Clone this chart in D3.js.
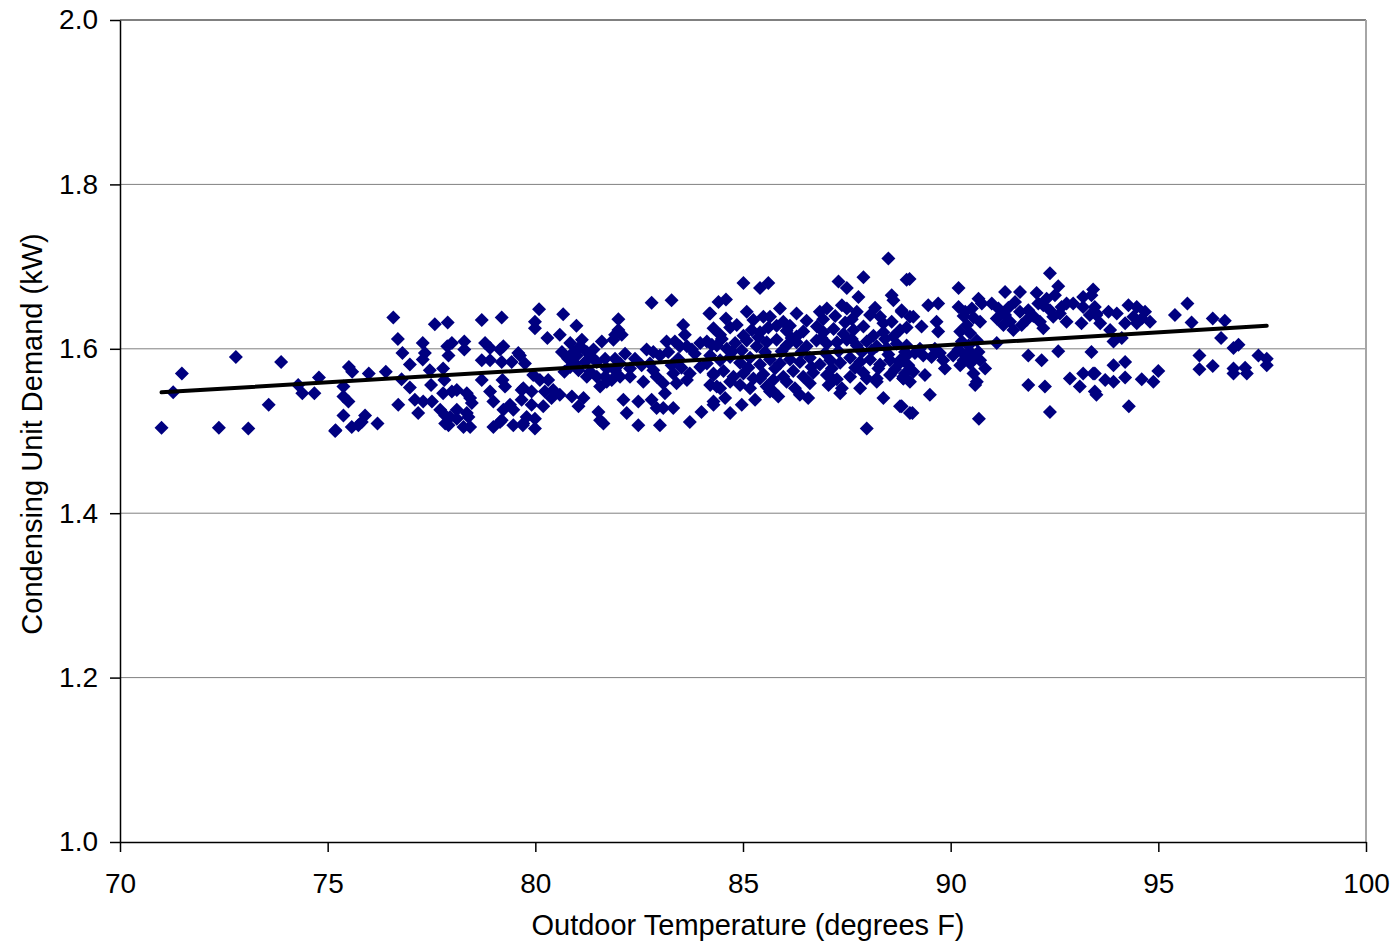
<!DOCTYPE html>
<html>
<head>
<meta charset="utf-8">
<script src="https://cdn.jsdelivr.net/npm/d3@7"></script>
<style>
  html, body { margin: 0; padding: 0; background: #fff; }
  svg { display: block; font-family: "Liberation Sans", Arial, sans-serif; }
</style>
</head>
<body>
<div id="chart"></div>
<script>
// [outdoor temperature (F), condensing unit demand (kW)]
const observations = [
  [71.0,1.504],[71.28,1.547],[71.49,1.570],[72.38,1.504],[72.79,1.590],[73.09,1.503],[73.58,1.532],[73.88,1.584],
  [74.29,1.556],[74.39,1.546],[74.68,1.546],[74.79,1.565],[75.18,1.500],
  [76.58,1.638],[76.69,1.612],[77.58,1.630],[77.89,1.632],[78.71,1.635],[79.19,1.638],
  [76.80,1.595],[76.98,1.581],[77.29,1.607],[77.34,1.595],[77.29,1.587],[77.88,1.603],[77.99,1.607],[77.91,1.592],
  [78.29,1.609],[78.29,1.599],[78.79,1.607],[78.91,1.601],[79.15,1.599],[79.23,1.603],
  [78.71,1.586],[78.91,1.586],[79.19,1.584],[79.43,1.584],[79.59,1.595],
  [75.51,1.578],[75.59,1.572],[75.99,1.570],[76.40,1.572],[76.78,1.563],[77.46,1.574],[77.78,1.576],
  [76.98,1.553],[77.49,1.556],[77.81,1.562],[78.71,1.562],[79.21,1.562],[79.27,1.554],
  [75.38,1.554],[75.38,1.542],[75.50,1.536],[77.10,1.538],[77.30,1.536],[77.51,1.536],[77.78,1.546],[77.99,1.548],
  [78.11,1.550],[78.35,1.546],[78.43,1.540],[78.47,1.534],[78.91,1.548],[78.99,1.536],[79.67,1.550],[79.67,1.538],
  [76.70,1.532],[77.18,1.522],[77.71,1.526],[77.83,1.519],[77.95,1.517],[78.11,1.526],[78.11,1.515],[78.35,1.522],
  [78.39,1.517],[79.23,1.526],[79.39,1.532],[79.47,1.526],[79.19,1.513],
  [75.38,1.519],[75.90,1.519],[75.82,1.511],[75.58,1.505],[75.74,1.507],[76.20,1.509],[77.83,1.509],[77.91,1.507],
  [78.27,1.505],[78.43,1.505],[78.99,1.505],[79.15,1.511],[79.47,1.507],[79.70,1.507],[75.19,1.501],[79.79,1.517],
  [80.09,1.648],[79.99,1.633],[79.99,1.625],[80.67,1.642],[80.99,1.628],[80.29,1.613],[80.59,1.617],[82.0,1.636],
  [82.0,1.623],[81.92,1.617],[82.08,1.617],[81.88,1.611],[82.80,1.656],[83.28,1.659],[83.56,1.629],[83.60,1.617],
  [84.19,1.643],[84.41,1.657],
  [79.63,1.592],[79.75,1.582],[80.84,1.607],[81.12,1.611],[80.92,1.596],[81.08,1.603],[81.24,1.596],[81.40,1.599],[81.60,1.609],
  [80.79,1.588],[80.84,1.578],[80.96,1.582],[81.04,1.574],[81.24,1.566],[81.32,1.572],
  [81.48,1.584],[81.68,1.588],[81.92,1.588],[82.04,1.582],[81.72,1.576],[81.92,1.574],[82.04,1.566],[81.68,1.566],
  [81.84,1.562],[81.48,1.566],[81.56,1.554],[81.72,1.560],
  [82.28,1.576],[82.28,1.566],[82.68,1.599],[82.84,1.596],[83.0,1.592],
  [83.16,1.609],[83.36,1.609],[83.48,1.603],[83.65,1.603],[83.77,1.599],[83.97,1.607],[84.13,1.609],[84.25,1.605],
  [82.76,1.582],[82.84,1.574],[82.92,1.566],[83.08,1.558],[83.32,1.570],[83.40,1.558],[83.65,1.562],[83.72,1.570],
  [83.97,1.578],[84.13,1.582],[84.29,1.570],[84.37,1.554],
  [79.95,1.568],[80.11,1.562],[80.31,1.562],[80.43,1.550],[80.59,1.544],[80.39,1.540],[80.23,1.548],
  [79.71,1.552],[79.91,1.548],[79.91,1.532],[80.19,1.530],
  [80.88,1.542],[81.04,1.530],[81.16,1.540],[81.52,1.523],[81.64,1.509],[81.56,1.513],
  [82.12,1.538],[82.20,1.522],[82.48,1.536],[82.80,1.538],[82.92,1.528],[83.08,1.528],[83.32,1.528],
  [82.48,1.507],[83.0,1.507],[83.72,1.511],[84.0,1.523],[84.29,1.532],
  [79.71,1.509],[79.99,1.515],[79.99,1.503],
  [81.00,1.592],[81.20,1.584],[81.36,1.590],[82.16,1.594],[82.40,1.588],[82.56,1.580],[83.20,1.596],[83.44,1.588],
  [83.84,1.594],[83.28,1.580],[83.52,1.577],[80.64,1.596],[80.70,1.572],[82.60,1.560],[83.12,1.546],
  [88.50,1.710],[87.90,1.687],[87.30,1.682],[87.50,1.674],[85.01,1.680],[85.41,1.674],[85.61,1.680],[88.94,1.684],
  [84.59,1.660],[88.58,1.665],[88.62,1.659],[87.78,1.663],
  [84.21,1.643],[84.59,1.637],[85.89,1.649],[86.29,1.643],[85.25,1.635],[85.49,1.639],[85.65,1.639],[85.97,1.633],
  [86.85,1.645],[87.02,1.649],[87.38,1.653],[87.50,1.649],[87.74,1.645],
  [88.06,1.641],[88.30,1.639],[88.38,1.631],[88.58,1.633],[88.82,1.645],[89.02,1.639],
  [84.29,1.625],[84.45,1.617],[84.69,1.626],[84.85,1.629],[85.01,1.616],[85.21,1.623],[85.41,1.620],[85.61,1.626],
  [85.81,1.628],[86.05,1.622],[86.29,1.615],[86.45,1.621],[86.78,1.627],[86.94,1.620],[87.18,1.624],[87.42,1.618],
  [87.66,1.623],[87.90,1.627],[88.14,1.616],[88.38,1.620],[88.62,1.615],[88.78,1.623],[88.94,1.626],
  [84.37,1.604],[84.61,1.600],[84.81,1.607],[85.09,1.610],[85.33,1.603],[85.57,1.608],[85.81,1.611],[86.05,1.604],
  [86.29,1.608],[86.53,1.603],[86.77,1.610],[87.02,1.606],[87.26,1.608],[87.50,1.611],[87.74,1.604],[87.98,1.609],
  [88.22,1.603],[88.46,1.601],[88.70,1.606],[88.94,1.604],
  [84.21,1.592],[84.45,1.586],[84.69,1.590],[84.93,1.583],[85.17,1.589],[85.41,1.581],[85.65,1.587],[85.89,1.582],
  [86.13,1.587],[86.37,1.584],[86.61,1.589],[86.85,1.581],[87.10,1.586],[87.34,1.583],[87.58,1.589],[87.82,1.584],
  [88.06,1.587],[88.30,1.581],[88.54,1.586],[88.78,1.583],[88.98,1.580],
  [84.29,1.568],[84.53,1.573],[84.77,1.566],[85.01,1.570],[85.25,1.564],[85.49,1.569],[85.73,1.562],[85.97,1.566],
  [86.21,1.573],[86.45,1.566],[86.69,1.571],[87.02,1.568],[87.26,1.563],[87.58,1.566],[87.90,1.571],[88.22,1.564],
  [88.54,1.568],[88.86,1.566],
  [84.21,1.556],[84.45,1.552],[84.69,1.560],[84.93,1.556],[85.17,1.552],[85.41,1.564],[85.57,1.554],[85.73,1.548],
  [86.05,1.560],[86.61,1.558],[86.37,1.544],[86.57,1.540],[87.18,1.562],[87.38,1.552],[87.34,1.546],[87.82,1.552],
  [87.98,1.564],[88.22,1.560],[88.86,1.564],[89.02,1.560],
  [84.29,1.536],[84.57,1.540],[84.69,1.522],[84.97,1.532],[85.29,1.538],[85.65,1.548],[88.38,1.540],[88.78,1.530],
  [89.02,1.522],[87.98,1.503],
  [84.49,1.612],[84.73,1.596],[84.97,1.598],[85.13,1.577],[85.37,1.614],[85.53,1.596],[85.77,1.576],[85.93,1.597],
  [86.17,1.613],[86.41,1.596],[86.65,1.578],[86.89,1.613],[86.98,1.595],[87.14,1.576],[87.30,1.597],[87.46,1.632],
  [87.62,1.612],[87.70,1.577],[87.86,1.596],[88.10,1.598],[88.26,1.576],[88.42,1.612],[88.50,1.593],[88.66,1.575],
  [88.90,1.596],[86.93,1.636],[87.22,1.640],[86.53,1.634],[85.09,1.645],[86.13,1.628],[87.06,1.556],[86.25,1.552],
  [85.85,1.542],[87.62,1.636],[88.18,1.650],
  [92.39,1.692],[89.01,1.685],[92.59,1.676],[90.19,1.674],
  [91.31,1.669],[91.67,1.669],[92.07,1.668],[92.31,1.661],[92.51,1.665],[92.79,1.655],[93.19,1.663],[93.43,1.672],
  [88.82,1.647],[89.10,1.639],[89.30,1.627],[89.46,1.653],[89.70,1.655],[89.66,1.633],[89.70,1.621],
  [90.19,1.651],[90.35,1.645],[90.51,1.649],[90.67,1.661],[90.75,1.655],[90.71,1.633],[90.39,1.629],[90.23,1.621],[90.47,1.619],
  [90.99,1.655],[91.15,1.649],[91.31,1.641],[91.11,1.637],[91.27,1.629],[91.43,1.633],[91.55,1.657],[91.67,1.645],
  [91.87,1.647],[91.83,1.635],[91.51,1.623],[92.23,1.653],[92.39,1.647],[92.15,1.633],[92.23,1.625],[92.47,1.639],
  [92.63,1.643],[92.79,1.633],[92.95,1.655],[93.19,1.651],[93.35,1.641],[93.15,1.631],[93.51,1.643],
  [91.11,1.607],
  [88.78,1.586],[88.94,1.592],[89.14,1.595],[89.34,1.592],[89.54,1.590],[89.74,1.595],[89.82,1.586],[90.06,1.592],
  [90.19,1.599],[90.31,1.586],[90.47,1.596],[90.67,1.596],[90.23,1.580],[90.47,1.582],[90.71,1.586],[90.83,1.576],
  [88.90,1.570],[89.10,1.572],[89.38,1.568],[89.86,1.576],[90.55,1.570],[90.63,1.560],[90.59,1.556],
  [88.86,1.564],[89.50,1.544],[88.82,1.530],[89.08,1.522],[90.68,1.515],[92.39,1.523],
  [91.87,1.592],[92.19,1.586],[92.59,1.597],[93.39,1.596],
  [91.87,1.556],[92.27,1.554],[92.87,1.564],[93.11,1.554],[93.19,1.570],[93.43,1.570],[93.47,1.548],
  [90.27,1.609],[90.43,1.604],[90.63,1.610],[90.31,1.640],[90.55,1.638],[91.39,1.650],[91.99,1.640],[92.11,1.655],
  [92.67,1.651],[91.71,1.629],[90.35,1.592],[90.59,1.590],[89.26,1.600],[89.62,1.600],
  [93.47,1.651],[93.51,1.641],[93.60,1.631],[93.39,1.665],
  [93.80,1.645],[94.0,1.643],[93.84,1.623],[93.92,1.609],[94.12,1.613],
  [94.28,1.653],[94.48,1.651],[94.68,1.645],[94.40,1.639],[94.60,1.637],[94.80,1.633],[94.20,1.631],[94.48,1.631],
  [95.40,1.641],[95.70,1.655],[95.80,1.632],[96.31,1.637],[96.60,1.634],
  [96.51,1.613],[96.81,1.601],[96.93,1.605],
  [97.41,1.592],[97.61,1.588],[97.61,1.580],
  [95.99,1.592],[96.31,1.579],[95.99,1.575],[96.81,1.576],[96.81,1.570],[97.09,1.577],[97.13,1.570],
  [93.92,1.580],[94.20,1.584],[93.47,1.570],[93.72,1.562],[93.92,1.560],[94.20,1.565],[94.60,1.563],[94.88,1.560],
  [95.0,1.573],[93.51,1.544],[94.29,1.530]
];

// linear trend: kW = slope * F + intercept
const trendSlope = 0.00304;
const trendIntercept = 1.3312;

const xTicks = [70, 75, 80, 85, 90, 95, 100];
const yTicks = [1.0, 1.2, 1.4, 1.6, 1.8, 2.0];
const xTitle = "Outdoor Temperature (degrees F)";
const yTitle = "Condensing Unit Demand (kW)";

const width = 1397;
const height = 951;
const margin = { top: 20, right: 31, bottom: 109, left: 120 };

const x = d3.scaleLinear().domain([70, 100]).range([margin.left, width - margin.right]);
const y = d3.scaleLinear().domain([1.0, 2.0]).range([height - margin.bottom, margin.top]);

const svg = d3.select("#chart").append("svg")
  .attr("width", width)
  .attr("height", height);

// horizontal gridlines
svg.append("g")
  .selectAll("line")
  .data(yTicks.filter((d) => d > 1.0))
  .join("line")
  .attr("x1", x(70))
  .attr("x2", x(100))
  .attr("y1", (d) => y(d))
  .attr("y2", (d) => y(d))
  .attr("stroke", "#808080")
  .attr("stroke-width", (d) => (d === 2.0 ? 2 : 1));

// right border of the plot area
svg.append("line")
  .attr("x1", x(100))
  .attr("x2", x(100))
  .attr("y1", y(2.0))
  .attr("y2", y(1.0))
  .attr("stroke", "#a6a6a6")
  .attr("stroke-width", 2);

// axes
const xAxis = svg.append("g")
  .attr("transform", `translate(0,${y(1.0)})`)
  .call(d3.axisBottom(x).tickValues(xTicks).tickSize(10).tickSizeOuter(0).tickPadding(21));

const yAxis = svg.append("g")
  .attr("transform", `translate(${x(70)},0)`)
  .call(d3.axisLeft(y).tickValues(yTicks).tickFormat(d3.format(".1f")).tickSize(10).tickSizeOuter(0).tickPadding(12));

[xAxis, yAxis].forEach((g) => {
  g.select(".domain").attr("stroke", "#000").attr("stroke-width", 1.5);
  g.selectAll(".tick line").attr("stroke", "#000").attr("stroke-width", 1.5);
  g.selectAll(".tick text")
    .attr("fill", "#000")
    .style("font-size", "28px")
    .style("font-family", '"Liberation Sans", Arial, sans-serif');
});

// scatter points as diamonds
const r = 7;
const diamond = `M0,${-r}L${r},0L0,${r}L${-r},0Z`;
svg.append("g")
  .selectAll("path")
  .data(observations)
  .join("path")
  .attr("d", diamond)
  .attr("transform", (d) => `translate(${x(d[0])},${y(d[1])})`)
  .attr("fill", "#000080");

// trend line across the range of the data
const [tMin, tMax] = d3.extent(observations, (d) => d[0]);
svg.append("line")
  .attr("x1", x(tMin))
  .attr("x2", x(tMax))
  .attr("y1", y(trendSlope * tMin + trendIntercept))
  .attr("y2", y(trendSlope * tMax + trendIntercept))
  .attr("stroke", "#000")
  .attr("stroke-width", 4)
  .attr("stroke-linecap", "round");

// axis titles
svg.append("text")
  .attr("x", 748)
  .attr("y", 935)
  .attr("text-anchor", "middle")
  .style("font-size", "29px")
  .text(xTitle);

svg.append("text")
  .attr("transform", `translate(41.5,${(y(1.0) + y(2.0)) / 2 + 3}) rotate(-90)`)
  .attr("text-anchor", "middle")
  .style("font-size", "29px")
  .text(yTitle);
</script>
</body>
</html>
